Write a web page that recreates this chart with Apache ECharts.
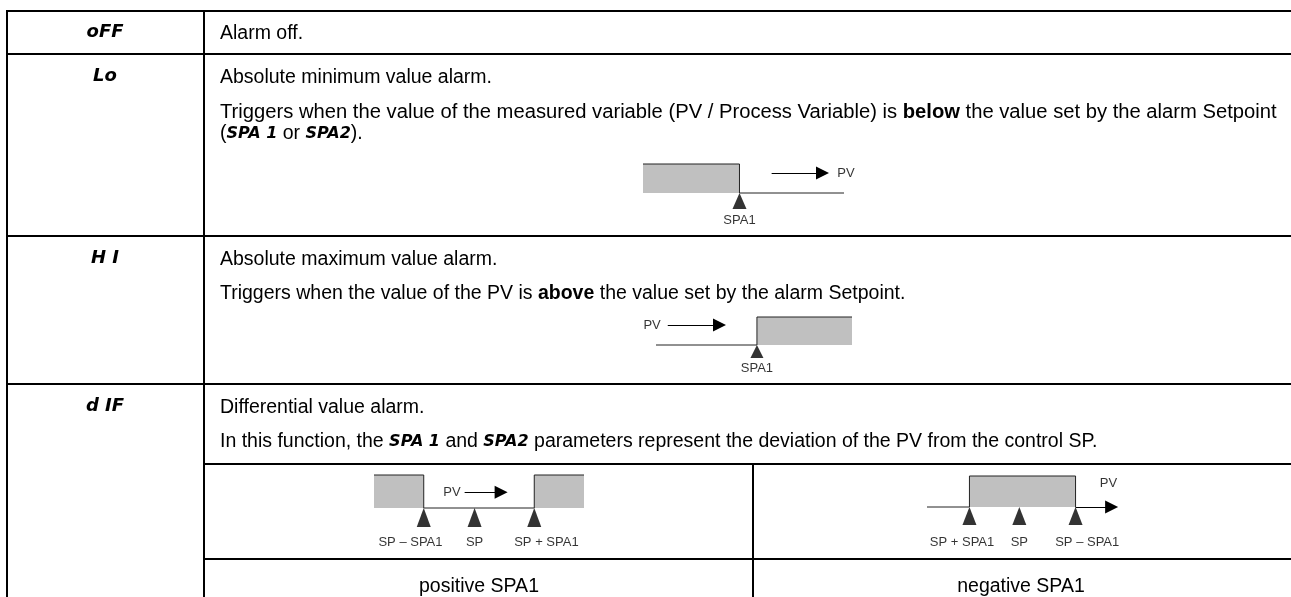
<!DOCTYPE html>
<html>
<head>
<meta charset="utf-8">
<script src="https://cdn.jsdelivr.net/npm/echarts@6/dist/echarts.min.js"></script>
<style>
html, body { margin: 0; padding: 0; background: #fff; }
#main { width: 1291px; height: 597px; }
</style>
</head>
<body>
<div id="main"></div>
<script>
// table text
var codes = ['oFF', 'Lo', 'H I', 'd IF'];
var titles = ['Alarm off.', 'Absolute minimum value alarm.', 'Absolute maximum value alarm.', 'Differential value alarm.'];
var notes = [
    [],
    ['Triggers when the value of the measured variable (PV / Process Variable) is {b|below} the value set by the alarm Setpoint',
     '({d|SPA 1} or {d|SPA2}).'],
    ['Triggers when the value of the PV is {b|above} the value set by the alarm Setpoint.'],
    ['In this function, the {d|SPA 1} and {d|SPA2} parameters represent the deviation of the PV from the control SP.']
];
var subCaptions = ['positive SPA1', 'negative SPA1'];

// diagrams: x = PV (relative units), y = alarm output (0 = off, 1 = on)
var loOutput = [[0, 1], [48, 1], [48, 0], [100, 0]];
var loSetpoints = [[48, 'SPA1']];
var loLabels = [[48, 'SPA1']];
var loArrow = [[64, 0.69], [89.3, 0.69]];
var loPv = [[101, 0.69, 'PV']];

var hiOutput = [[0, 0], [51.5, 0], [51.5, 1], [100, 1]];
var hiSetpoints = [[51.5, 'SPA1']];
var hiLabels = [[51.5, 'SPA1']];
var hiArrow = [[6, 0.71], [32.4, 0.71]];
var hiPv = [[-2, 0.71, 'PV']];

var posOutput = [[-9.5, 1], [-5, 1], [-5, 0], [5, 0], [5, 1], [9.5, 1]];
var posSetpoints = [[-5, 'SP – SPA1'], [-0.4, 'SP'], [5, 'SP + SPA1']];
var posLabels = [[-6.2, 'SP – SPA1'], [-0.4, 'SP'], [6.1, 'SP + SPA1']];
var posArrow = [[-1.3, 0.48], [2.0, 0.48]];
var posPv = [[-2.45, 0.48, 'PV']];

var negOutput = [[-9, 0], [-5, 0], [-5, 1], [5, 1], [5, 0]];
var negSetpoints = [[-5, 'SP + SPA1'], [-0.3, 'SP'], [5, 'SP – SPA1']];
var negLabels = [[-5.7, 'SP + SPA1'], [-0.3, 'SP'], [6.1, 'SP – SPA1']];
var negArrow = [[5, 0], [8.4, 0]];
var negPv = [[8.1, 0.77, 'PV']];

var FONT = "'Liberation Sans', Arial, sans-serif";
var LCD = { fontFamily: "'DejaVu Sans'", fontWeight: 'bold', fontStyle: 'italic', fontSize: 16, fill: '#000' };
var LCD_CODE = { fontFamily: "'DejaVu Sans'", fontWeight: 'bold', fontStyle: 'italic', fontSize: 18, fill: '#000' };

var diagrams = [
    { box: [643, 164, 201, 29], xr: [0, 100], output: loOutput, sp: loSetpoints, labels: loLabels, arrow: loArrow, pv: loPv, tri: [14, 16], dy: 27 },
    { box: [656, 317, 196, 28], xr: [0, 100], output: hiOutput, sp: hiSetpoints, labels: hiLabels, arrow: hiArrow, pv: hiPv, tri: [13, 13], dy: 23 },
    { box: [374, 475, 210, 33], xr: [-9.5, 9.5], output: posOutput, sp: posSetpoints, labels: posLabels, arrow: posArrow, pv: posPv, tri: [14, 19], dy: 34 },
    { box: [927, 476, 191, 31], xr: [-9, 9], output: negOutput, sp: negSetpoints, labels: negLabels, arrow: negArrow, pv: negPv, tri: [14, 18], dy: 35 }
];

var chart = echarts.init(document.getElementById('main'));

// table grid lines
var graphics = [];
function seg(x1, y1, x2, y2) {
    graphics.push({
        type: 'line', silent: true,
        shape: { x1: x1, y1: y1, x2: x2, y2: y2 },
        style: { stroke: '#000', lineWidth: 2 }
    });
}
var rowY = [11, 54, 236, 384];
rowY.forEach(function (y) { seg(6, y, 1291, y); });
seg(204, 464, 1291, 464);
seg(204, 559, 1291, 559);
seg(7, 10, 7, 597);
seg(204, 10, 204, 597);
seg(753, 464, 753, 597);

function text(x, y, str, align, extra, sx) {
    var st = {
        text: str, x: 0, y: 0, fill: '#000',
        fontFamily: FONT, fontSize: 19.5,
        align: align || 'left', verticalAlign: 'middle',
        rich: { b: { fontFamily: FONT, fontSize: 19.5, fontWeight: 'bold' }, d: LCD }
    };
    if (extra) Object.keys(extra).forEach(function (k) { st[k] = extra[k]; });
    graphics.push({ type: 'text', x: x, y: y, scaleX: sx || 1, silent: true, style: st });
}

var titleY = [34, 78, 260, 408];
var noteY = [[], [113, 134], [294], [442]];
var noteScale = [[], [1.036, 1], [1], [1]]; // first Lo line is justified to the cell width
codes.forEach(function (c, i) {
    text(105, titleY[i] - 2, c, 'center', LCD_CODE);
    text(220, titleY[i], titles[i]);
    notes[i].forEach(function (n, j) { text(220, noteY[i][j], n, 'left', null, noteScale[i][j]); });
});
text(479, 587, subCaptions[0], 'center');
text(1021, 587, subCaptions[1], 'center');

// diagrams through their own small grids
var grid = [], xAxis = [], yAxis = [], series = [];
var smallLabel = { color: '#000', fontFamily: FONT, fontSize: 13 };
diagrams.forEach(function (d, i) {
    grid.push({ left: d.box[0], top: d.box[1], width: d.box[2], height: d.box[3] });
    xAxis.push({ gridIndex: i, type: 'value', min: d.xr[0], max: d.xr[1], show: false });
    yAxis.push({ gridIndex: i, type: 'value', min: 0, max: 1, show: false });
    series.push({
        type: 'line', xAxisIndex: i, yAxisIndex: i, data: d.output,
        symbol: 'none', silent: true, clip: false, animation: false,
        lineStyle: { color: '#222', width: 1 },
        areaStyle: { color: '#c0c0c0', opacity: 1 }
    });
    series.push({
        type: 'lines', coordinateSystem: 'cartesian2d', xAxisIndex: i, yAxisIndex: i,
        data: [{ coords: d.arrow }], symbol: ['none', 'triangle'], symbolSize: 13,
        silent: true, animation: false, clip: false,
        lineStyle: { color: '#000', width: 1, opacity: 1 }
    });
    series.push({
        type: 'scatter', xAxisIndex: i, yAxisIndex: i, clip: false, silent: true, animation: false,
        data: d.sp.map(function (p) { return [p[0], 0]; }),
        symbol: 'triangle', symbolSize: d.tri, symbolOffset: [0, d.tri[1] / 2],
        itemStyle: { color: '#000' }
    });
    series.push({
        type: 'scatter', xAxisIndex: i, yAxisIndex: i, clip: false, silent: true, animation: false,
        data: d.labels.map(function (p) {
            return { value: [p[0], 0, p[1]], label: { offset: [0, d.dy] } };
        }).concat(d.pv.map(function (p) { return { value: p }; })),
        symbolSize: 1, itemStyle: { color: 'rgba(0,0,0,0)' },
        label: Object.assign({
            show: true, position: 'inside',
            formatter: function (p) { return p.value[2]; }
        }, smallLabel)
    });
});

chart.setOption({
    backgroundColor: '#fff',
    animation: false,
    grid: grid,
    xAxis: xAxis,
    yAxis: yAxis,
    series: series,
    graphic: graphics
});
</script>
</body>
</html>
